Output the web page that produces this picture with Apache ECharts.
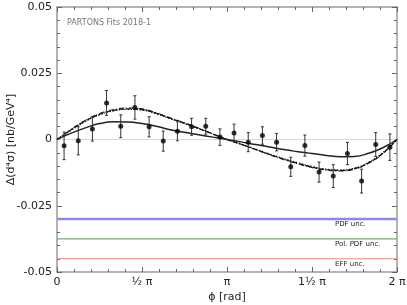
<!DOCTYPE html>
<html><head><meta charset="utf-8">
<script src="https://cdn.jsdelivr.net/npm/echarts@6/dist/echarts.min.js"></script>
<style>html,body{margin:0;padding:0;background:#fff}#c{width:407px;height:305px}</style>
</head><body><div id="c"></div>
<script>
// data points (bin centres in rad)
const phiData = [0.131,0.393,0.654,0.916,1.178,1.440,1.702,1.963,2.225,2.487,2.749,3.011,3.272,3.534,3.796,4.058,4.320,4.581,4.843,5.105,5.367,5.629,5.890,6.152];
const dataVals = [-0.0024,-0.0005,0.0040,0.0138,0.0050,0.0121,0.0048,-0.0006,0.0031,0.0048,0.0050,0.0009,0.0025,-0.0010,0.0015,-0.0010,-0.0103,-0.0023,-0.0123,-0.0138,-0.0053,-0.0157,-0.0019,-0.0029];
const dataErrs = [0.0052,0.0053,0.0046,0.0047,0.0043,0.0044,0.0038,0.0038,0.0036,0.0032,0.0030,0.0031,0.0033,0.0036,0.0033,0.0033,0.0036,0.0040,0.0038,0.0043,0.0042,0.0045,0.0045,0.0050];
// fit curves sampled
const phiCurve = [0,0.262,0.524,0.785,1.047,1.309,1.571,1.833,2.094,2.356,2.618,2.880,3.142,3.403,3.665,3.927,4.189,4.451,4.712,4.974,5.236,5.498,5.760,6.021,6.283];
const fitSolid = [0,0.0024,0.0044,0.0060,0.0067,0.0066,0.0060,0.0050,0.0037,0.0027,0.0018,0.0009,0,-0.0009,-0.0019,-0.0028,-0.0038,-0.0046,-0.0053,-0.0060,-0.0065,-0.0064,-0.0052,-0.0031,0];
const fitDashed = [0,0.0037,0.0070,0.0095,0.0110,0.0116,0.0113,0.0099,0.0080,0.0062,0.0042,0.0021,0,-0.0018,-0.0037,-0.0056,-0.0074,-0.0090,-0.0104,-0.0114,-0.0117,-0.0110,-0.0088,-0.0052,0];
const fitDashDot = [0,0.0039,0.0073,0.0098,0.0113,0.0119,0.0116,0.0101,0.0082,0.0063,0.0043,0.0021,0,-0.0019,-0.0038,-0.0058,-0.0076,-0.0092,-0.0106,-0.0116,-0.0119,-0.0112,-0.0090,-0.0054,0];
const fitDotted = [0,0.0035,0.0068,0.0093,0.0108,0.0114,0.0111,0.0097,0.0078,0.0060,0.0040,0.0020,0,-0.0017,-0.0036,-0.0055,-0.0072,-0.0088,-0.0102,-0.0112,-0.0115,-0.0108,-0.0086,-0.0050,0];
// uncertainty bands (constant levels)
const pdfUnc = [-0.0300,-0.0300];
const polPdfUnc = [-0.0375,-0.0375];
const effUnc = [-0.0450,-0.0450];
const bandPhi = [0,6.283];
const xTickLabels = ['0','½ π','π','1½ π','2 π'];
const yTickLabels = {'0.05':'0.05','0.025':'0.025','0':'0','-0.025':'-0.025','-0.05':'-0.05'};

const PI = Math.PI;
const pair = (xs, ys) => xs.map((x,i)=>[x, ys[i]]);
const font = 'DejaVu Sans';
const axisCol = '#9a9a9a';

const chart = echarts.init(document.getElementById('c'), null, {renderer:'canvas'});
const xBase = {
  type:'value', min:0, max:2*PI, interval:PI/2,
  axisLine:{show:true, onZero:false, lineStyle:{color:axisCol, width:1.5}},
  axisTick:{show:true, inside:true, length:5, lineStyle:{color:'#666'}},
  minorTick:{show:true, splitNumber:5, length:3, lineStyle:{color:'#666'}},
  splitLine:{show:false}
};
const yBase = {
  type:'value', min:-0.05, max:0.05, interval:0.025,
  axisLine:{show:true, onZero:false, lineStyle:{color:axisCol, width:1.5}},
  axisTick:{show:true, inside:true, length:5, lineStyle:{color:'#666'}},
  minorTick:{show:true, splitNumber:5, length:3, lineStyle:{color:'#666'}},
  splitLine:{show:false}
};
const option = {
  animation:false,
  grid:{left:57, right:10, top:7, bottom:33, containLabel:false, outerBoundsMode:'none'},
  xAxis:[
    Object.assign({}, xBase, {position:'bottom',
      name:'ϕ [rad]', nameLocation:'middle', nameGap:20, nameMoveOverlap:false,
      nameTextStyle:{fontFamily:font, fontSize:11, color:'#222'},
      axisLabel:{show:true, fontFamily:font, fontSize:11, color:'#222', margin:5,
        formatter:(v)=>xTickLabels[Math.round(v/(PI/2))]}}),
    Object.assign({}, xBase, {position:'top', axisLabel:{show:false}})
  ],
  yAxis:[
    Object.assign({}, yBase, {position:'left',
      name:'Δ(d⁴σ) [nb/GeV⁴]', nameLocation:'middle', nameGap:40, nameRotate:90, nameMoveOverlap:false,
      nameTextStyle:{fontFamily:font, fontSize:11, color:'#222'},
      axisLabel:{show:true, fontFamily:font, fontSize:11, color:'#222', margin:5,
        formatter:(v)=>{const k=String(Math.round(v*1000)/1000); return yTickLabels[k]!==undefined?yTickLabels[k]:k;}}}),
    Object.assign({}, yBase, {position:'right', axisLabel:{show:false}})
  ],
  graphic:[
    {type:'text', left:67, top:19, style:{text:'PARTONS Fits 2018-1', font:'8px '+font, fill:'#777'}},
    {type:'text', left:335, top:221, style:{text:'PDF unc.', font:'7px '+font, fill:'#222'}},
    {type:'text', left:335, top:241, style:{text:'Pol. PDF unc.', font:'7px '+font, fill:'#222'}},
    {type:'text', left:335, top:261, style:{text:'EFF unc.', font:'7px '+font, fill:'#222'}}
  ],
  series:[
    {type:'line', data:[[0,0],[2*PI,0]], symbol:'none', lineStyle:{color:'#d8d8d8', width:1}, silent:true},
    {type:'line', data:pair(bandPhi,pdfUnc), symbol:'none', lineStyle:{color:'#8a8aee', width:2.5}},
    {type:'line', data:pair(bandPhi,polPdfUnc), symbol:'none', lineStyle:{color:'#74b074', width:1.2}},
    {type:'line', data:pair(bandPhi,effUnc), symbol:'none', lineStyle:{color:'#f08a8a', width:1.2}},
    {type:'line', data:pair(phiCurve,fitDashed), smooth:true, symbol:'none', lineStyle:{color:'#111', width:1.2, type:[5,2]}},
    {type:'line', data:pair(phiCurve,fitDashDot), smooth:true, symbol:'none', lineStyle:{color:'#111', width:1, type:[5,2,1,2]}},
    {type:'line', data:pair(phiCurve,fitDotted), smooth:true, symbol:'none', lineStyle:{color:'#111', width:1.2, type:[1.5,1.5]}},
    {type:'line', data:pair(phiCurve,fitSolid), smooth:true, symbol:'none', lineStyle:{color:'#222', width:1.5}},
    {type:'custom', data:phiData.map((p,i)=>[p, dataVals[i]-dataErrs[i], dataVals[i]+dataErrs[i]]),
      renderItem:(params, api)=>{
        const lo = api.coord([api.value(0), api.value(1)]);
        const hi = api.coord([api.value(0), api.value(2)]);
        const c = 1.5;
        const st = {stroke:'#333', lineWidth:1};
        return {type:'group', children:[
          {type:'line', shape:{x1:lo[0],y1:lo[1],x2:hi[0],y2:hi[1]}, style:st},
          {type:'line', shape:{x1:lo[0]-c,y1:lo[1],x2:lo[0]+c,y2:lo[1]}, style:st},
          {type:'line', shape:{x1:hi[0]-c,y1:hi[1],x2:hi[0]+c,y2:hi[1]}, style:st}
        ]};
      }, z:5},
    {type:'scatter', data:pair(phiData,dataVals), symbol:'circle', symbolSize:5, itemStyle:{color:'#000'}, z:6}
  ]
};
chart.setOption(option);
</script>
</body></html>
